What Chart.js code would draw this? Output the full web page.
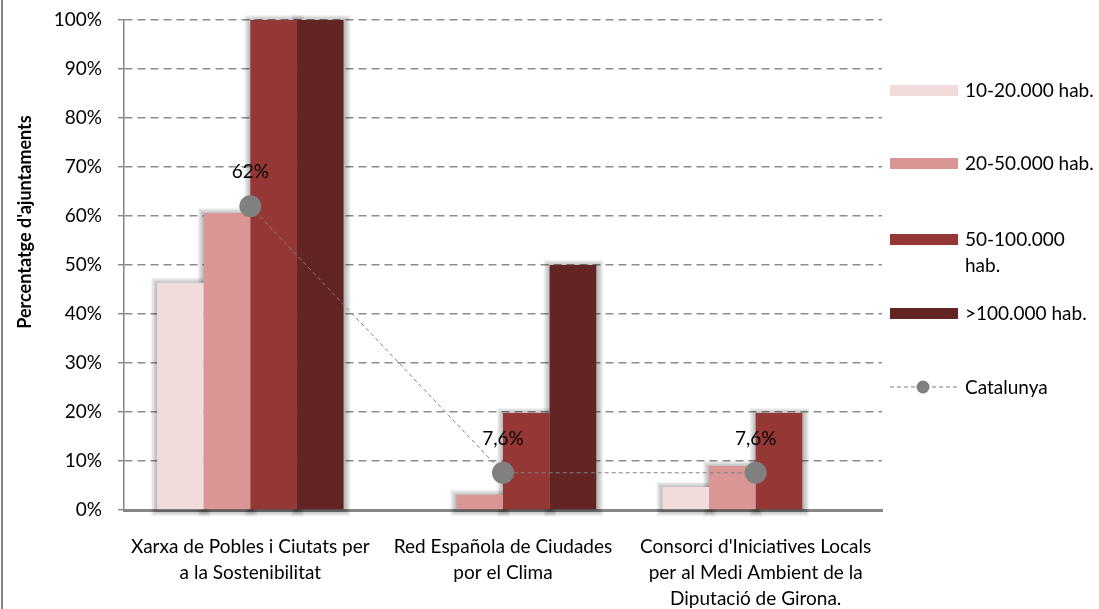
<!DOCTYPE html>
<html>
<head>
<meta charset="utf-8">
<script src="https://cdn.jsdelivr.net/npm/chart.js@4.4.1/dist/chart.umd.min.js"></script>
<style>
  html, body { margin: 0; padding: 0; background: #fff; }
  #wrap { position: relative; width: 1099px; height: 609px; overflow: hidden; }
  #c { position: absolute; left: 0; top: 0; }
  #leftline { position: absolute; left: 1px; top: 0; width: 2px; height: 609px; background: #868686; }
  #legend { position: absolute; left: 890px; top: 0; width: 209px; height: 609px;
            font-family: Lato, "Open Sans", sans-serif; font-size: 19px; color: #000; }
  .item { position: absolute; left: 0; display: flex; align-items: flex-start; }
  .swatch { width: 68px; height: 11px; margin-top: 7.5px; flex: none; }
  .mark { width: 68px; height: 14px; margin-top: 6px; flex: none; }
  .txt { margin-left: 7px; width: 134px; line-height: 26px; }
</style>
</head>
<body>
<div id="wrap">
  <canvas id="c" width="1099" height="609"></canvas>
  <div id="leftline"></div>
  <div id="legend"></div>
</div>
<script>
// ---- data ----
const categories = [
  ["Xarxa de Pobles i Ciutats per", "a la Sostenibilitat"],
  ["Red Española de Ciudades", "por el Clima"],
  ["Consorci d'Iniciatives Locals", "per al Medi Ambient de la", "Diputació de Girona."]
];
const seriesNames = ["10-20.000 hab.", "20-50.000 hab.", "50-100.000 hab.", ">100.000 hab."];
const s10_20   = [46.4, 0, 4.7];
const s20_50   = [60.6, 3.1, 9.0];
const s50_100  = [100, 19.8, 19.8];
const s100plus = [100, 50, 0];
const lineName = "Catalunya";
const catalunya = [62, 7.6, 7.6];
const catalunyaLabels = ["62%", "7,6%", "7,6%"];
const yAxisTitle = "Percentatge d'ajuntaments";
const yMin = 0, yMax = 100, yStep = 10;

// ---- styles ----
const FONT = 'Lato, "Open Sans", sans-serif';
const barColors = ["#F2DCDB", "#D99694", "#953735", "#632523"];
const lineColor = "#808080";
const axisColor = "#868686";

const seriesValues = [s10_20, s20_50, s50_100, s100plus];
const datasets = seriesValues.map((vals, i) => ({
  type: 'bar',
  label: seriesNames[i],
  data: vals,
  backgroundColor: barColors[i],
  borderWidth: 0,
  barPercentage: 1.0,
  categoryPercentage: 0.738,
  order: 1
}));
datasets.push({
  type: 'line',
  label: lineName,
  data: catalunya,
  borderColor: lineColor,
  borderWidth: 1,
  borderDash: [4, 3],
  pointRadius: 11,
  pointHoverRadius: 11,
  pointBackgroundColor: lineColor,
  pointBorderWidth: 0,
  fill: false,
  tension: 0,
  order: 0
});

// soft glow behind bars (layered translucent rectangles)
const shadowPlugin = {
  id: 'barShadows',
  beforeDatasetsDraw(chart) {
    const ctx = chart.ctx;
    ctx.save();
    const rects = [];
    chart.data.datasets.forEach((ds, i) => {
      const meta = chart.getDatasetMeta(i);
      if (meta.type !== 'bar') return;
      meta.data.forEach(el => {
        const p = el.getProps(['x', 'y', 'base', 'width'], true);
        if (Math.abs(p.base - p.y) < 0.5) return;
        rects.push([p.x - p.width / 2, Math.min(p.y, p.base), p.width, Math.abs(p.base - p.y)]);
      });
    });
    for (let k = 7; k >= 1; k--) {
      ctx.fillStyle = 'rgba(0,0,0,0.05)';
      rects.forEach(r => {
        ctx.fillRect(r[0] - k + 1, r[1] - k + 2, r[2] + 2 * k - 1, r[3] + 2 * k - 2);
      });
    }
    ctx.restore();
  }
};

// value labels above the Catalunya points
const labelPlugin = {
  id: 'pointLabels',
  afterDatasetsDraw(chart) {
    const idx = chart.data.datasets.findIndex(d => d.type === 'line');
    const meta = chart.getDatasetMeta(idx);
    const ctx = chart.ctx;
    ctx.save();
    ctx.font = '19px ' + FONT;
    ctx.fillStyle = '#000';
    ctx.textAlign = 'center';
    ctx.textBaseline = 'alphabetic';
    meta.data.forEach((pt, i) => ctx.fillText(catalunyaLabels[i], pt.x, pt.y - 28));
    ctx.restore();
  }
};

// rotated y-axis title
const yTitlePlugin = {
  id: 'yTitle',
  afterDraw(chart) {
    const ctx = chart.ctx;
    ctx.save();
    ctx.translate(25, 222);
    ctx.rotate(-Math.PI / 2);
    ctx.font = 'bold 18px ' + FONT;
    ctx.fillStyle = '#000';
    ctx.textAlign = 'center';
    ctx.textBaseline = 'middle';
    ctx.fillText(yAxisTitle, 0, 0);
    ctx.restore();
  }
};

const chart = new Chart(document.getElementById('c'), {
  data: { labels: categories, datasets },
  plugins: [shadowPlugin, labelPlugin, yTitlePlugin],
  options: {
    responsive: false,
    animation: false,
    devicePixelRatio: 1,
    layout: { autoPadding: false, padding: { top: 20, right: 217, left: 0, bottom: 0 } },
    plugins: { legend: { display: false }, tooltip: { enabled: false } },
    scales: {
      x: {
        grid: { display: false, drawTicks: false },
        border: { display: true, color: axisColor, width: 3 },
        ticks: {
          color: '#000',
          padding: 24,
          maxRotation: 0,
          autoSkip: false,
          font: { family: FONT, size: 19, lineHeight: 1.37 }
        },
        afterFit(s) { s.height = 99; s.paddingLeft = 0; s.paddingRight = 0; }
      },
      y: {
        min: yMin, max: yMax,
        grid: {
          color: '#8c8c8c', lineWidth: 1.4,
          tickLength: 6, tickColor: axisColor, tickWidth: 1.4, tickBorderDash: []
        },
        border: { display: true, color: axisColor, width: 1.5, dash: [8, 5] },
        ticks: {
          stepSize: yStep,
          color: '#000',
          padding: 16,
          font: { family: FONT, size: 19 },
          callback: v => v + '%'
        },
        afterFit(s) { s.width = 124; s.paddingTop = 0; s.paddingBottom = 0; }
      }
    }
  }
});

// ---- legend (HTML) ----
const legendY = [90, 163, 239, 313, 387];
const legend = document.getElementById('legend');
seriesNames.concat([lineName]).forEach((name, i) => {
  const item = document.createElement('div');
  item.className = 'item';
  item.style.top = (legendY[i] - 13) + 'px';
  let marker;
  if (i < seriesNames.length) {
    marker = document.createElement('div');
    marker.className = 'swatch';
    marker.style.background = barColors[i];
  } else {
    marker = document.createElementNS('http://www.w3.org/2000/svg', 'svg');
    marker.setAttribute('class', 'mark');
    marker.setAttribute('width', '68');
    marker.setAttribute('height', '14');
    marker.innerHTML = '<line x1="0" y1="7" x2="68" y2="7" stroke="#a6a6a6" stroke-width="1.5" stroke-dasharray="4,3"/>' +
      '<circle cx="33" cy="7" r="6.5" fill="' + lineColor + '"/>';
  }
  const txt = document.createElement('div');
  txt.className = 'txt';
  txt.textContent = name;
  item.appendChild(marker);
  item.appendChild(txt);
  legend.appendChild(item);
});
</script>
</body>
</html>
